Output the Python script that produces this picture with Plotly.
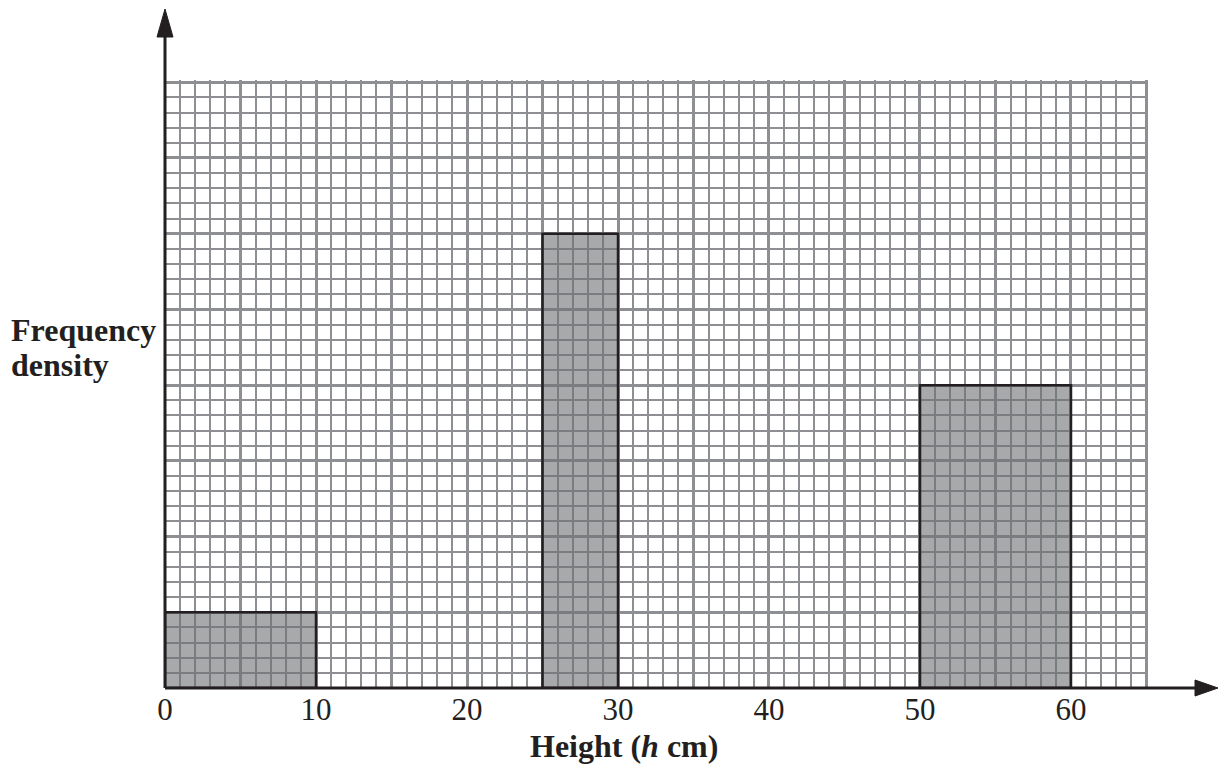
import plotly.graph_objects as go

# Data
class_lower = [0, 25, 50]
class_upper = [10, 30, 60]
freq_density = [1, 6, 4]
x_tick_vals = [0, 5, 10, 15, 20, 25, 30, 35, 40, 45, 50, 55, 60, 65]
x_tick_text = ["0", "", "10", "", "20", "", "30", "", "40", "", "50", "", "60", ""]
x_title = "<b>Height (<i>h</i> cm)</b>"
y_title_lines = ["<b>Frequency</b>", "<b>density</b>"]

W, H = 1218, 769
L, R, T, B = 165, 70, 80, 81
pw, ph = W - L - R, H - T - B
x_range = [0, 65.1]
y_range = [0, 8.03]

centers = [(a + b) / 2 for a, b in zip(class_lower, class_upper)]
widths = [b - a for a, b in zip(class_lower, class_upper)]

grid_col = "#8e8f93"
ink = "#231f20"
serif = "Liberation Serif, Times New Roman, serif"

fig = go.Figure()
fig.add_trace(go.Bar(
    x=centers, y=freq_density, width=widths,
    marker=dict(color="rgba(110,111,115,0.6)", line=dict(color=ink, width=2.5)),
    hoverinfo="skip",
))

fig.update_layout(
    width=W, height=H, autosize=False,
    margin=dict(l=L, r=R, t=T, b=B, pad=0),
    paper_bgcolor="white", plot_bgcolor="white",
    showlegend=False,
    font=dict(family=serif, color=ink, size=31),
    xaxis=dict(
        range=x_range, tickmode="array", tickvals=x_tick_vals, ticktext=x_tick_text,
        showgrid=True, gridcolor=grid_col, gridwidth=3, zeroline=False,
        showline=False, ticks="", tickfont=dict(family=serif, size=31, color=ink),
        minor=dict(dtick=1, tick0=0, showgrid=True, gridcolor=grid_col, gridwidth=1.8),
        fixedrange=True,
    ),
    yaxis=dict(
        range=y_range, dtick=1, tick0=0, showticklabels=False,
        showgrid=True, gridcolor=grid_col, gridwidth=3, zeroline=False,
        showline=False, ticks="",
        minor=dict(dtick=0.2, tick0=0, showgrid=True, gridcolor=grid_col, gridwidth=1.8),
        fixedrange=True,
    ),
)

def px_x(p):
    return (p - L) / pw

def px_y(p):
    return (T + ph - p) / ph

shapes = []
# x axis line + arrow
shapes.append(dict(type="line", xref="paper", yref="paper", x0=0, x1=px_x(1196), y0=0, y1=0,
                   line=dict(color=ink, width=3), layer="above"))
shapes.append(dict(type="path", xref="paper", yref="paper",
                   path=f"M {px_x(1195)},{8/ph} L {px_x(1218)},0 L {px_x(1195)},{-8/ph} Z",
                   fillcolor=ink, line=dict(color=ink, width=1), layer="above"))
# y axis line + arrow
shapes.append(dict(type="line", xref="paper", yref="paper", x0=0, x1=0, y0=0, y1=px_y(36),
                   line=dict(color=ink, width=3), layer="above"))
shapes.append(dict(type="path", xref="paper", yref="paper",
                   path=f"M {px_x(157)},{px_y(37)} L {px_x(165)},{px_y(9)} L {px_x(173)},{px_y(37)} Z",
                   fillcolor=ink, line=dict(color=ink, width=1), layer="above"))
fig.update_layout(shapes=shapes)

fig.add_annotation(text=x_title, xref="x", yref="paper", x=30.4, y=px_y(746),
                   xanchor="center", yanchor="middle", showarrow=False,
                   font=dict(family=serif, size=32, color=ink))
for line_text, ypix in zip(y_title_lines, [330, 365]):
    fig.add_annotation(text=line_text, xref="paper", yref="paper", x=px_x(9), y=px_y(ypix),
                       xanchor="left", yanchor="middle", align="left", showarrow=False,
                       font=dict(family=serif, size=32, color=ink))

fig.write_html("out.html", config={"displayModeBar": False},
               post_script="document.body.style.margin='0';document.body.style.overflow='hidden';")
